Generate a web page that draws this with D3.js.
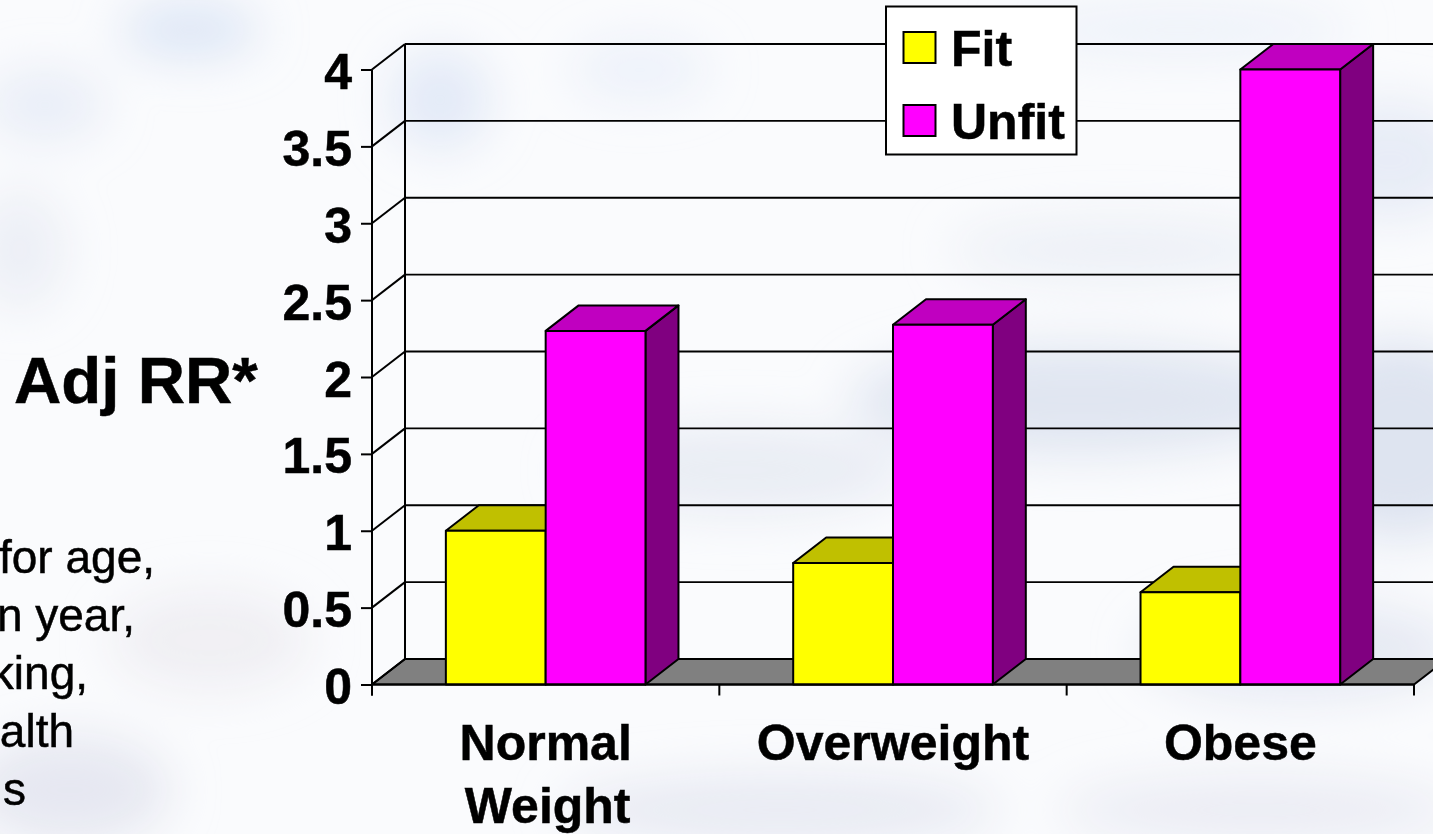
<!DOCTYPE html>
<html>
<head>
<meta charset="utf-8">
<script src="https://cdn.jsdelivr.net/npm/d3@7"></script>
<style>
html,body{margin:0;padding:0;background:#fafbfd;overflow:hidden}
svg{display:block}
text{font-family:"Liberation Sans",Arial,sans-serif;fill:#000;stroke:#000;stroke-width:.5px}
</style>
</head>
<body>
<script>
// Relative risk by weight class and fitness level
const categories = [["Normal", "Weight"], ["Overweight"], ["Obese"]];
const seriesNames = ["Fit", "Unfit"];
const fitValues = [1.0, 0.79, 0.6];
const unfitValues = [2.3, 2.34, 4.0];
const tickValues = [0, 0.5, 1, 1.5, 2, 2.5, 3, 3.5, 4];
const footnoteFragments = ["for age,", "n year,", "king,", "alth", "s"];
const faceColors = {
  Fit: {front: "#ffff00", top: "#c0c000", side: "#808000"},
  Unfit: {front: "#ff00ff", top: "#c000c0", side: "#800080"}
};
// Soft cloud patches of the sky behind the slide: [cx, cy, rx, ry, colour, opacity]
const cloudPatches = [
  [190, 30, 70, 28, "#d3dff3", .75],
  [45, 105, 60, 35, "#dde5f4", .6],
  [20, 250, 45, 60, "#e2e6f1", .55],
  [440, 100, 50, 50, "#d8e2f5", .7],
  [640, 70, 70, 30, "#e2e9f7", .55],
  [1180, 30, 170, 25, "#e6ecf7", .65],
  [1390, 160, 80, 60, "#e0e6f3", .7],
  [1120, 250, 170, 30, "#e7ebf4", .7],
  [1080, 400, 230, 55, "#dde3ef", .9],
  [1400, 440, 100, 100, "#dae1ee", .9],
  [740, 470, 170, 45, "#e2e7f1", .7],
  [1300, 650, 160, 50, "#dee3ef", .7],
  [210, 640, 100, 50, "#ebeaef", .7],
  [70, 790, 100, 55, "#e1e4ee", .8],
  [780, 810, 220, 35, "#e4e6f0", .8],
  [1260, 810, 200, 35, "#e6e7f1", .7]
];

const width = 1433, height = 834;
const depthX = 33, depthY = -25.5;
const axisStroke = 2;

const svg = d3.select("body").append("svg")
  .attr("width", width).attr("height", height);

const defs = svg.append("defs");
defs.append("filter").attr("id", "soft")
  .attr("x", "-60%").attr("y", "-60%").attr("width", "220%").attr("height", "220%")
  .append("feGaussianBlur").attr("stdDeviation", 24);

svg.append("rect").attr("width", width).attr("height", height).attr("fill", "#fafbfd");
svg.append("g").attr("filter", "url(#soft)")
  .selectAll("ellipse").data(cloudPatches).join("ellipse")
  .attr("cx", d => d[0]).attr("cy", d => d[1])
  .attr("rx", d => d[2]).attr("ry", d => d[3])
  .attr("fill", d => d[4]).attr("opacity", d => d[5]);

const y = d3.scaleLinear().domain([0, 4]).range([684.5, 69.5]);
const xCategory = d3.scaleBand().domain(d3.range(categories.length)).range([372, 1414]);
// Each cluster: two touching bars with a wide gap on either side
const xBar = d3.scaleBand().domain(seriesNames).range([0, xCategory.bandwidth()])
  .paddingInner(0).paddingOuter(0.74);

const poly = pts => pts.map(p => p.join(",")).join(" ");

// Floor
const floorY = y(0);
svg.append("polygon")
  .attr("points", poly([[372, floorY], [372 + depthX, floorY + depthY],
    [1414 + depthX, floorY + depthY], [1414, floorY]]))
  .attr("fill", "#808080").attr("stroke", "#000").attr("stroke-width", axisStroke);

// Back wall: gridlines with their slanted returns to the value axis
const wall = svg.append("g").attr("fill", "none").attr("stroke", "#000");
wall.selectAll("line.grid").data(tickValues.slice(1)).join("line").attr("class", "grid")
  .attr("x1", 372 + depthX).attr("x2", 1414 + depthX)
  .attr("y1", d => y(d) + depthY).attr("y2", d => y(d) + depthY)
  .attr("stroke-width", d => d === 4 ? 2.2 : 1.8);
wall.selectAll("line.return").data(tickValues).join("line").attr("class", "return")
  .attr("x1", 372).attr("x2", 372 + depthX)
  .attr("y1", d => y(d)).attr("y2", d => y(d) + depthY)
  .attr("stroke-width", axisStroke);
wall.append("line")
  .attr("x1", 372 + depthX).attr("x2", 372 + depthX)
  .attr("y1", y(0) + depthY).attr("y2", y(4) + depthY)
  .attr("stroke-width", axisStroke);

// Bars, back to front within each cluster
const bars = [];
categories.forEach((c, i) => {
  bars.push({i, name: "Fit", value: fitValues[i]});
  bars.push({i, name: "Unfit", value: unfitValues[i]});
});
const barG = svg.append("g").attr("stroke", "#000").attr("stroke-width", axisStroke).attr("stroke-linejoin", "round");
bars.forEach(b => {
  const x0 = xCategory(b.i) + xBar(b.name), x1 = x0 + xBar.bandwidth();
  const yt = y(b.value), yb = y(0);
  const colors = faceColors[b.name];
  barG.append("polygon").attr("fill", colors.side)
    .attr("points", poly([[x1, yb], [x1 + depthX, yb + depthY], [x1 + depthX, yt + depthY], [x1, yt]]));
  barG.append("polygon").attr("fill", colors.top)
    .attr("points", poly([[x0, yt], [x0 + depthX, yt + depthY], [x1 + depthX, yt + depthY], [x1, yt]]));
  barG.append("rect").attr("fill", colors.front)
    .attr("x", x0).attr("y", yt).attr("width", x1 - x0).attr("height", yb - yt);
});

// Value axis
const yAxis = svg.append("g").attr("transform", "translate(372,0)")
  .call(d3.axisLeft(y).tickValues(tickValues).tickFormat(d3.format("~g")).tickSize(11).tickPadding(9));
yAxis.selectAll(".tick text")
  .style("font-size", "50px").style("font-weight", "bold")
  .attr("dy", "0.38em");
yAxis.selectAll("line,path").attr("stroke", "#000").attr("stroke-width", axisStroke);
yAxis.select("path").attr("d", `M0,${y(4)}V${y(0) + 11}`);

// Category axis
const xAxis = svg.append("g").attr("transform", `translate(0,${y(0)})`);
const xEdges = d3.scaleLinear().domain([0, categories.length]).range([372, 1414]);
xAxis.append("line").attr("x1", xEdges(0)).attr("x2", xEdges(3)).attr("stroke", "#000").attr("stroke-width", axisStroke);
xAxis.selectAll("line.tick").data(d3.range(categories.length + 1)).join("line").attr("class", "tick")
  .attr("x1", d => xEdges(d)).attr("x2", d => xEdges(d))
  .attr("y1", 0).attr("y2", 11).attr("stroke", "#000").attr("stroke-width", axisStroke);
categories.forEach((lines, i) => {
  lines.forEach((line, j) => {
    svg.append("text")
      .attr("x", xCategory(i) + xCategory.bandwidth() / 2 + (j === 1 ? 2 : 0))
      .attr("y", 760 + j * 63)
      .attr("text-anchor", "middle")
      .style("font-size", "50px").style("font-weight", "bold")
      .text(line);
  });
});

// Legend
const legend = svg.append("g");
legend.append("rect").attr("x", 886).attr("y", 6.5).attr("width", 190.5).attr("height", 148)
  .attr("fill", "#fff").attr("stroke", "#000").attr("stroke-width", axisStroke);
seriesNames.forEach((name, i) => {
  legend.append("rect").attr("x", 903.5).attr("y", 32 + i * 73).attr("width", 32).attr("height", 31)
    .attr("fill", faceColors[name].front).attr("stroke", "#000").attr("stroke-width", axisStroke);
  legend.append("text").attr("x", 951).attr("y", 66 + i * 73)
    .style("font-size", "50px").style("font-weight", "bold").text(name);
});

// Axis title and footnote
svg.append("text").attr("x", 14).attr("y", 403)
  .style("font-size", "65.5px").style("font-weight", "bold").text("Adj RR*");
const footnoteRight = [155, 135, 88, 74, 26];
svg.selectAll("text.note").data(footnoteFragments).join("text").attr("class", "note")
  .attr("x", (d, i) => footnoteRight[i])
  .attr("y", (d, i) => 573 + i * 58)
  .attr("text-anchor", "end")
  .style("font-size", "46px")
  .text(d => d);
</script>
</body>
</html>
